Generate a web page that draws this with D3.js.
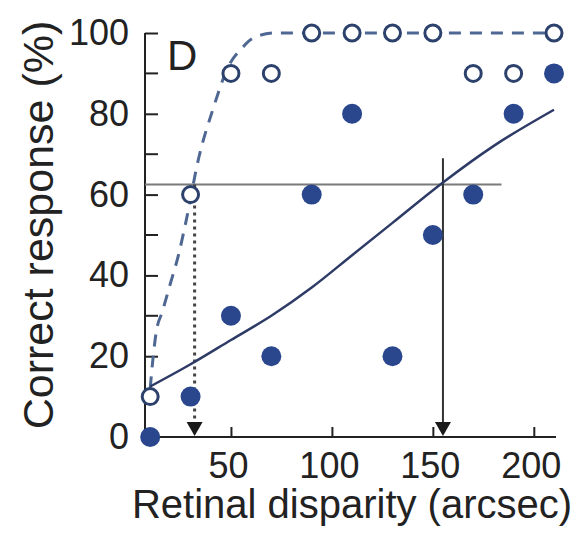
<!DOCTYPE html>
<html>
<head>
  <script src="https://d3js.org/d3.v7.min.js"></script>
  <style>
    body { margin: 0; background: #fff; font-family: Arial, "Liberation Sans", sans-serif; }
    svg { display: block; }
  </style>
</head>
<body>
  <svg width="582" height="539"></svg>
  <script>
    const width = 582, height = 539;

    // disparities tested (arcsec)
    const disparities = [10, 30, 50, 70, 90, 110, 130, 150, 170, 190, 210];
    // open circles (dashed fit) and filled circles (solid fit)
    const openValues = [10, 60, 90, 90, 100, 100, 100, 100, 90, 90, 100];
    const filledValues = [0, 10, 30, 20, 60, 80, 20, 50, 60, 80, 90];

    // fitted curves
    const dashedFitX = [10, 11.5, 13, 16, 20, 24, 28, 34, 41, 49, 55, 62, 72, 210];
    const dashedFitY = [12, 20, 26, 31, 38, 45, 54, 69, 81, 92, 96, 99, 100, 100];
    const solidFitX = [10, 30, 50, 70, 90, 110, 130, 155, 180, 210];
    const solidFitY = [12.5, 18, 24, 30, 37, 45, 53, 63, 72, 81];

    // threshold markers
    const criterion = 62.5;
    const thresholdOpen = 32;
    const thresholdFilled = 155;

    const xTicks = [50, 100, 150, 200];
    const yTicks = [0, 20, 40, 60, 80, 100];
    const yMinorTicks = [10, 30, 50, 70, 90];

    const x = d3.scaleLinear().domain([0, 210]).range([130, 554]);
    const y = d3.scaleLinear().domain([0, 100]).range([437, 33]);

    const svg = d3.select("svg")
      .attr("width", width)
      .attr("height", height);

    const ink = "#222";
    const navy = "#2e3b66";
    const dashBlue = "#4e6893";
    const dotBlue = "#2a468c";

    // axes
    svg.append("line")
      .attr("x1", 145).attr("x2", 145)
      .attr("y1", y(100)).attr("y2", y(0) + 1)
      .attr("stroke", ink).attr("stroke-width", 2);
    svg.append("line")
      .attr("x1", 145).attr("x2", 556)
      .attr("y1", y(0)).attr("y2", y(0))
      .attr("stroke", ink).attr("stroke-width", 2);

    const yAxis = svg.append("g")
      .attr("transform", "translate(145,0)")
      .call(d3.axisLeft(y).tickValues(yTicks).tickSizeInner(-13).tickSizeOuter(0).tickPadding(16));
    yAxis.select(".domain").remove();
    yAxis.selectAll(".tick line").attr("stroke", ink).attr("stroke-width", 2);
    yAxis.selectAll(".tick text")
      .attr("font-family", "Arial, 'Liberation Sans', sans-serif")
      .attr("font-size", 36).attr("fill", ink);

    svg.append("g")
      .selectAll("line")
      .data(yMinorTicks)
      .enter().append("line")
      .attr("x1", 145).attr("x2", 158)
      .attr("y1", d => y(d)).attr("y2", d => y(d))
      .attr("stroke", ink).attr("stroke-width", 2);

    const xAxis = svg.append("g")
      .attr("transform", `translate(0,${y(0)})`)
      .call(d3.axisBottom(x).tickValues(xTicks).tickSizeInner(-10).tickSizeOuter(0).tickPadding(15));
    xAxis.select(".domain").remove();
    xAxis.selectAll(".tick line").attr("stroke", ink).attr("stroke-width", 2);
    xAxis.selectAll(".tick text")
      .attr("font-family", "Arial, 'Liberation Sans', sans-serif")
      .attr("font-size", 36).attr("fill", ink)
      .attr("dx", -3);

    // axis titles
    svg.append("text")
      .attr("transform", "translate(53,225) rotate(-90)")
      .attr("text-anchor", "middle")
      .attr("font-size", 43).attr("fill", ink)
      .text("Correct response (%)");
    svg.append("text")
      .attr("x", 352).attr("y", 518)
      .attr("text-anchor", "middle")
      .attr("font-size", 40).attr("fill", ink)
      .text("Retinal disparity (arcsec)");

    svg.append("text")
      .attr("x", 167).attr("y", 70)
      .attr("font-size", 42).attr("fill", ink)
      .text("D");

    // criterion line and threshold arrows
    svg.append("line")
      .attr("x1", 145).attr("x2", x(184))
      .attr("y1", y(criterion)).attr("y2", y(criterion))
      .attr("stroke", "#7a7a7a").attr("stroke-width", 2);

    svg.append("line")
      .attr("x1", x(thresholdFilled)).attr("x2", x(thresholdFilled))
      .attr("y1", y(69)).attr("y2", y(0) - 10)
      .attr("stroke", "#333").attr("stroke-width", 2);
    svg.append("line")
      .attr("x1", x(thresholdOpen)).attr("x2", x(thresholdOpen))
      .attr("y1", y(criterion)).attr("y2", y(0) - 10)
      .attr("stroke", "#444").attr("stroke-width", 3)
      .attr("stroke-dasharray", "3,4");

    svg.append("g")
      .selectAll("path")
      .data([thresholdOpen, thresholdFilled])
      .enter().append("path")
      .attr("d", d => `M${x(d) - 8},${y(0) - 15} L${x(d) + 8},${y(0) - 15} L${x(d)},${y(0) - 1} Z`)
      .attr("fill", "#1a1a1a");

    // fitted curves
    const line = d3.line()
      .x(d => x(d[0]))
      .y(d => y(d[1]))
      .curve(d3.curveMonotoneX);

    svg.append("path")
      .datum(d3.zip(dashedFitX, dashedFitY))
      .attr("d", line)
      .attr("fill", "none")
      .attr("stroke", dashBlue)
      .attr("stroke-width", 3)
      .attr("stroke-dasharray", "12,9");

    svg.append("path")
      .datum(d3.zip(solidFitX, solidFitY))
      .attr("d", line)
      .attr("fill", "none")
      .attr("stroke", navy)
      .attr("stroke-width", 2.5);

    // data points
    svg.append("g")
      .selectAll("circle")
      .data(d3.zip(disparities, filledValues))
      .enter().append("circle")
      .attr("cx", d => x(d[0]))
      .attr("cy", d => y(d[1]))
      .attr("r", 10)
      .attr("fill", dotBlue);

    svg.append("g")
      .selectAll("circle")
      .data(d3.zip(disparities, openValues))
      .enter().append("circle")
      .attr("cx", d => x(d[0]))
      .attr("cy", d => y(d[1]))
      .attr("r", 8)
      .attr("fill", "#fff")
      .attr("stroke", "#2c416b")
      .attr("stroke-width", 3);
  </script>
</body>
</html>
